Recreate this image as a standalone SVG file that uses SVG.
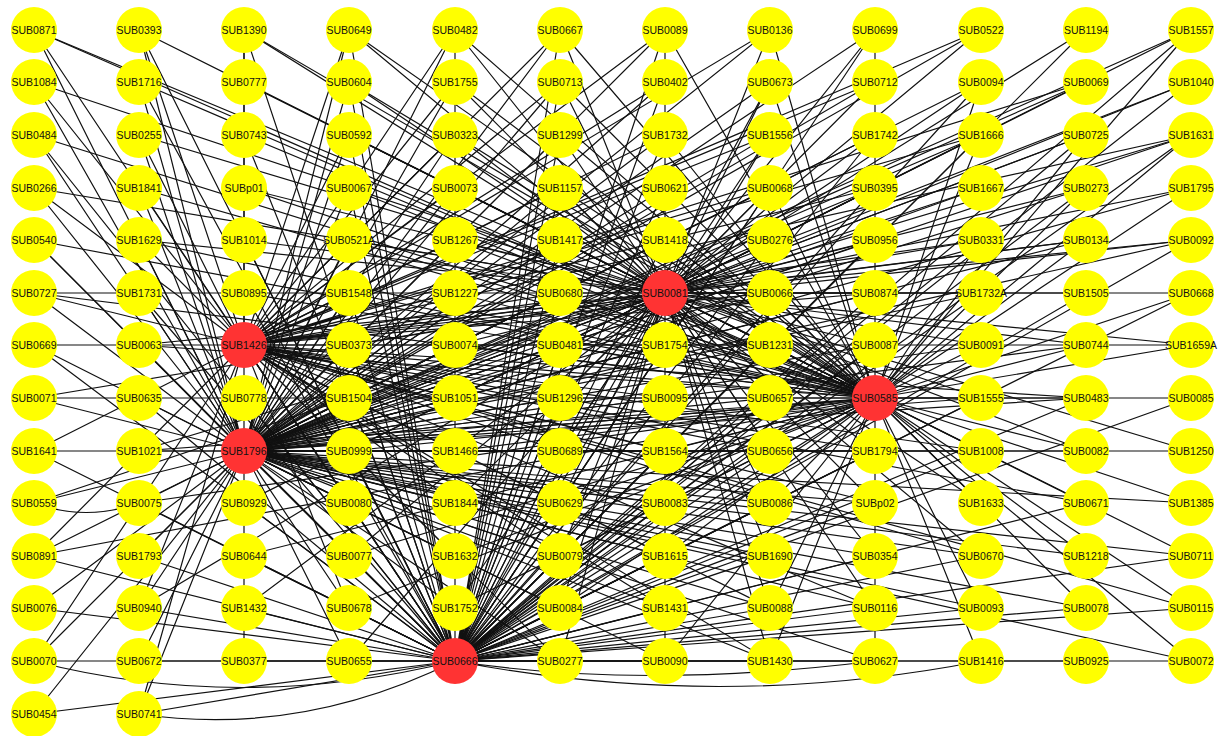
<svg xmlns="http://www.w3.org/2000/svg" width="1224" height="736" viewBox="0 0 1224 736">
<style>
.e path{fill:none;stroke:#111;stroke-width:1.2}
circle{stroke:none}
.y circle{fill:#ffff00}
.r circle{fill:#ff3333}
text{font-family:"Liberation Sans",Arial,sans-serif;font-size:10.5px;fill:#111;text-anchor:middle}
</style>
<rect width="1224" height="736" fill="#fff"/>
<g class="e" id="connectors">
<path id="h1c0" d="M244 451L34 30M244 451L34 82M244 451L34 135M244 451L34 188M244 451L34 240M244 451L34 293M244 451L34 345M244 451L34 398M244 451L34 451M244 451L34 503M244 451L34 556M244 451L34 608M244 451L34 661M244 451L34 714"/>
<path id="h1c1" d="M244 451L139 30M244 451L139 82M244 451L139 135M244 451L139 188M244 451L139 240M244 451L139 293M244 451L139 345M244 451L139 398M244 451L139 451M244 451L139 503M244 451L139 556M244 451L139 608M244 451L139 661M244 451L139 714"/>
<path id="h1c2" d="M244 451L244 30M244 451L244 661"/>
<path id="h1c3" d="M244 451L349 30M244 451L349 82M244 451L349 135M244 451L349 188M244 451L349 240M244 451L349 293M244 451L349 345M244 451L349 398M244 451L349 451M244 451L349 503M244 451L349 556M244 451L349 608M244 451L349 661"/>
<path id="h1c4" d="M244 451L455 30M244 451L455 82M244 451L455 135M244 451L455 188M244 451L455 240M244 451L455 293M244 451L455 345M244 451L455 398M244 451L455 451M244 451L455 503M244 451L455 556M244 451L455 608M244 451L455 661"/>
<path id="h1c5" d="M244 451L560 30M244 451L560 82M244 451L560 135M244 451L560 188M244 451L560 240M244 451L560 293M244 451L560 345M244 451L560 398M244 451L560 451M244 451L560 503M244 451L560 556M244 451L560 608M244 451L560 661"/>
<path id="h1c6" d="M244 451L665 30M244 451L665 82M244 451L665 135M244 451L665 188M244 451L665 240M244 451L665 293M244 451L665 345M244 451L665 398M244 451L665 451M244 451L665 503M244 451L665 556M244 451L665 608M244 451L665 661"/>
<path id="h1c7" d="M244 451L770 30M244 451L770 82M244 451L770 135M244 451L770 188M244 451L770 240M244 451L770 293M244 451L770 345M244 451L770 398M244 451L770 451M244 451L770 503M244 451L770 556M244 451L770 608M244 451L770 661"/>
<path id="h1c8" d="M244 451L875 30M244 451L875 82M244 451L875 135M244 451L875 188M244 451L875 240M244 451L875 293M244 451L875 345M244 451L875 398M244 451L875 451M244 451L875 503M244 451L875 556M244 451L875 608M244 451L875 661"/>
<path id="h1c9" d="M244 451L981 30M244 451L981 82M244 451L981 135M244 451L981 188M244 451L981 293M244 451L981 345M244 451L981 398M244 451L981 451M244 451L981 556M244 451L981 608"/>
<path id="h1c10" d="M244 451L1086 82M244 451L1086 135M244 451L1086 188M244 451L1086 240M244 451L1086 345M244 451L1086 398M244 451L1086 451M244 451L1086 556M244 451L1086 608"/>
<path id="h1c11" d="M244 451L1191 30M244 451L1191 82M244 451L1191 135M244 451L1191 188M244 451L1191 240M244 451L1191 451M244 451L1191 503M244 451L1191 556M244 451L1191 661"/>
<path id="h2c0" d="M455 661L34 30M455 661L34 135M455 661L34 240M455 661L34 345M455 661L34 451M455 661L34 556M455 661L34 608M455 661L34 714M455 661L34 661"/>
<path id="h2c1" d="M455 661L139 30M455 661L139 82M455 661L139 188M455 661L139 293M455 661L139 398M455 661L139 503M455 661L139 556M455 661L139 608M455 661L139 661M455 661L139 714"/>
<path id="h2c2" d="M455 661L244 30M455 661L244 135M455 661L244 240M455 661L244 293M455 661L244 345M455 661L244 398M455 661L244 451M455 661L244 503M455 661L244 556M455 661L244 608M455 661L244 661"/>
<path id="h2c3" d="M455 661L349 30M455 661L349 82M455 661L349 135M455 661L349 188M455 661L349 293M455 661L349 345M455 661L349 398M455 661L349 451M455 661L349 503M455 661L349 556M455 661L349 608M455 661L349 661"/>
<path id="h2c4" d="M455 661L455 30"/>
<path id="h2c5" d="M455 661L560 30M455 661L560 82M455 661L560 135M455 661L560 188M455 661L560 240M455 661L560 293M455 661L560 345M455 661L560 398M455 661L560 451M455 661L560 503M455 661L560 556M455 661L560 608M455 661L560 661"/>
<path id="h2c6" d="M455 661L665 30M455 661L665 82M455 661L665 135M455 661L665 188M455 661L665 240M455 661L665 293M455 661L665 345M455 661L665 398M455 661L665 451M455 661L665 503M455 661L665 556M455 661L665 608M455 661L665 661"/>
<path id="h2c7" d="M455 661L770 82M455 661L770 135M455 661L770 188M455 661L770 240M455 661L770 345M455 661L770 398M455 661L770 451M455 661L770 503M455 661L770 556M455 661L770 608M455 661L770 661"/>
<path id="h2c8" d="M455 661L875 30M455 661L875 135M455 661L875 188M455 661L875 240M455 661L875 293M455 661L875 345M455 661L875 398M455 661L875 451M455 661L875 503M455 661L875 556M455 661L875 608M455 661L875 661"/>
<path id="h2c9" d="M455 661L981 82M455 661L981 135M455 661L981 240M455 661L981 293M455 661L981 398M455 661L981 451M455 661L981 556M455 661L981 608"/>
<path id="h2c10" d="M455 661L1086 30M455 661L1086 135M455 661L1086 188M455 661L1086 293M455 661L1086 398M455 661L1086 503M455 661L1086 608M455 661L1086 661"/>
<path id="h2c11" d="M455 661L1191 30M455 661L1191 82M455 661L1191 135M455 661L1191 240M455 661L1191 293M455 661L1191 398M455 661L1191 556M455 661L1191 608M455 661L1191 661"/>
<path id="h2curves" d="M34 661Q240 714 455 661M139 714Q300 738 455 661M455 661Q720 712 981 661M455 661Q640 690 875 661"/>
<path id="h3c0" d="M665 293L34 30M665 293L34 82M665 293L34 188M665 293L34 293M665 293L34 398M665 293L34 503"/>
<path id="h3c1" d="M665 293L139 30M665 293L139 135M665 293L139 240M665 293L139 345M665 293L139 451M665 293L139 608"/>
<path id="h3c2" d="M665 293L244 30M665 293L244 82M665 293L244 188M665 293L244 240M665 293L244 345M665 293L244 451M665 293L244 503M665 293L244 608"/>
<path id="h3c3" d="M665 293L349 30M665 293L349 82M665 293L349 135M665 293L349 240M665 293L349 345M665 293L349 451M665 293L349 556M665 293L349 661"/>
<path id="h3c4" d="M665 293L455 30M665 293L455 82M665 293L455 135M665 293L455 188M665 293L455 240M665 293L455 345M665 293L455 398M665 293L455 503M665 293L455 608"/>
<path id="h3c5" d="M665 293L560 30M665 293L560 82M665 293L560 135M665 293L560 188M665 293L560 240M665 293L560 293M665 293L560 345M665 293L560 398M665 293L560 451M665 293L560 503M665 293L560 556M665 293L560 608M665 293L560 661"/>
<path id="h3c6" d="M665 293L665 30M665 293L665 661"/>
<path id="h3c7" d="M665 293L770 30M665 293L770 82M665 293L770 135M665 293L770 188M665 293L770 240M665 293L770 293M665 293L770 345M665 293L770 398M665 293L770 451M665 293L770 503M665 293L770 556M665 293L770 608M665 293L770 661"/>
<path id="h3c8" d="M665 293L875 30M665 293L875 82M665 293L875 135M665 293L875 188M665 293L875 240M665 293L875 293M665 293L875 345M665 293L875 398M665 293L875 451M665 293L875 503M665 293L875 556M665 293L875 608"/>
<path id="h3c9" d="M665 293L981 30M665 293L981 82M665 293L981 135M665 293L981 188M665 293L981 240M665 293L981 293M665 293L981 345M665 293L981 398M665 293L981 451M665 293L981 503M665 293L981 556"/>
<path id="h3c10" d="M665 293L1086 30M665 293L1086 82M665 293L1086 135M665 293L1086 188M665 293L1086 240M665 293L1086 293M665 293L1086 345M665 293L1086 451M665 293L1086 503"/>
<path id="h3c11" d="M665 293L1191 30M665 293L1191 82M665 293L1191 135M665 293L1191 188M665 293L1191 240M665 293L1191 293M665 293L1191 345M665 293L1191 451"/>
<path id="h4c0" d="M875 398L34 30M875 398L34 135M875 398L34 240M875 398L34 293M875 398L34 398M875 398L34 556"/>
<path id="h4c1" d="M875 398L139 82M875 398L139 188M875 398L139 240M875 398L139 345M875 398L139 451M875 398L139 503"/>
<path id="h4c2" d="M875 398L244 30M875 398L244 135M875 398L244 188M875 398L244 293M875 398L244 345M875 398L244 451M875 398L244 556"/>
<path id="h4c3" d="M875 398L349 30M875 398L349 82M875 398L349 135M875 398L349 188M875 398L349 240M875 398L349 293M875 398L349 451M875 398L349 556M875 398L349 608"/>
<path id="h4c4" d="M875 398L455 30M875 398L455 82M875 398L455 135M875 398L455 240M875 398L455 293M875 398L455 345M875 398L455 451M875 398L455 556M875 398L455 608"/>
<path id="h4c5" d="M875 398L560 30M875 398L560 82M875 398L560 135M875 398L560 188M875 398L560 240M875 398L560 293M875 398L560 345M875 398L560 398M875 398L560 503M875 398L560 556M875 398L560 608"/>
<path id="h4c6" d="M875 398L665 30M875 398L665 135M875 398L665 240M875 398L665 345M875 398L665 451M875 398L665 556M875 398L665 661"/>
<path id="h4c7" d="M875 398L770 30M875 398L770 82M875 398L770 188M875 398L770 293M875 398L770 345M875 398L770 451M875 398L770 503M875 398L770 608M875 398L770 661"/>
<path id="h4c8" d="M875 398L875 30M875 398L875 661"/>
<path id="h4c9" d="M875 398L981 82M875 398L981 135M875 398L981 240M875 398L981 345M875 398L981 398M875 398L981 503M875 398L981 608M875 398L981 661"/>
<path id="h4c10" d="M875 398L1086 135M875 398L1086 188M875 398L1086 240M875 398L1086 345M875 398L1086 398M875 398L1086 451M875 398L1086 556M875 398L1086 608"/>
<path id="h4c11" d="M875 398L1191 30M875 398L1191 135M875 398L1191 188M875 398L1191 293M875 398L1191 345M875 398L1191 398M875 398L1191 503M875 398L1191 556M875 398L1191 608M875 398L1191 661"/>
<path id="h5" d="M244 345L34 82M244 345L34 188M244 345L34 293M244 345L34 345M244 345L34 451M244 345L34 556M244 345L34 661M244 345L139 30M244 345L139 135M244 345L139 240M244 345L139 398M244 345L139 503M244 345L139 608M244 345L139 714M244 345L244 30M244 345L349 30M244 345L349 135M244 345L349 240M244 345L349 345M244 345L349 398M244 345L349 503M244 345L349 608M244 345L455 82M244 345L455 188M244 345L455 293M244 345L455 398M244 345L455 503M244 345L560 30M244 345L560 188M244 345L560 345M244 345L560 503M244 345L560 661M244 345L665 82M244 345L665 240M244 345L665 398M244 345L665 556M244 345L770 135M244 345L770 293M244 345L770 451M244 345L770 608M244 345L875 188M244 345L875 345M244 345L875 503M244 345L981 345M244 345L981 556M244 345L1086 345M244 345L1086 503M244 345L1191 345M244 345L1191 608"/>
<path id="h5b" d="M244 345L455 30M244 345L455 135M244 345L455 240M244 345L455 345M244 345L455 451M244 345L455 556M244 345L560 82M244 345L560 293M244 345L560 451M244 345L560 556M244 345L665 30M244 345L665 135M244 345L665 345M244 345L665 451M244 345L665 608M244 345L770 30M244 345L770 188M244 345L770 345M244 345L770 503M244 345L770 661M244 345L875 82M244 345L875 293M244 345L875 451M244 345L875 608M244 345L981 30M244 345L981 135M244 345L981 240M244 345L981 451M244 345L1086 82M244 345L1086 240M244 345L1086 398M244 345L1191 135M244 345L1191 240"/>
<path id="misc" d="M34 503Q86 522 139 503"/>
</g>
<g id="nodes">
<g id="SUB0871" class="y" transform="translate(34,30)"><circle r="23"/><text y="4">SUB0871</text></g>
<g id="SUB1084" class="y" transform="translate(34,82)"><circle r="23"/><text y="4">SUB1084</text></g>
<g id="SUB0484" class="y" transform="translate(34,135)"><circle r="23"/><text y="4">SUB0484</text></g>
<g id="SUB0266" class="y" transform="translate(34,188)"><circle r="23"/><text y="4">SUB0266</text></g>
<g id="SUB0540" class="y" transform="translate(34,240)"><circle r="23"/><text y="4">SUB0540</text></g>
<g id="SUB0727" class="y" transform="translate(34,293)"><circle r="23"/><text y="4">SUB0727</text></g>
<g id="SUB0669" class="y" transform="translate(34,345)"><circle r="23"/><text y="4">SUB0669</text></g>
<g id="SUB0071" class="y" transform="translate(34,398)"><circle r="23"/><text y="4">SUB0071</text></g>
<g id="SUB1641" class="y" transform="translate(34,451)"><circle r="23"/><text y="4">SUB1641</text></g>
<g id="SUB0559" class="y" transform="translate(34,503)"><circle r="23"/><text y="4">SUB0559</text></g>
<g id="SUB0891" class="y" transform="translate(34,556)"><circle r="23"/><text y="4">SUB0891</text></g>
<g id="SUB0076" class="y" transform="translate(34,608)"><circle r="23"/><text y="4">SUB0076</text></g>
<g id="SUB0070" class="y" transform="translate(34,661)"><circle r="23"/><text y="4">SUB0070</text></g>
<g id="SUB0454" class="y" transform="translate(34,714)"><circle r="23"/><text y="4">SUB0454</text></g>
<g id="SUB0393" class="y" transform="translate(139,30)"><circle r="23"/><text y="4">SUB0393</text></g>
<g id="SUB1716" class="y" transform="translate(139,82)"><circle r="23"/><text y="4">SUB1716</text></g>
<g id="SUB0255" class="y" transform="translate(139,135)"><circle r="23"/><text y="4">SUB0255</text></g>
<g id="SUB1841" class="y" transform="translate(139,188)"><circle r="23"/><text y="4">SUB1841</text></g>
<g id="SUB1629" class="y" transform="translate(139,240)"><circle r="23"/><text y="4">SUB1629</text></g>
<g id="SUB1731" class="y" transform="translate(139,293)"><circle r="23"/><text y="4">SUB1731</text></g>
<g id="SUB0063" class="y" transform="translate(139,345)"><circle r="23"/><text y="4">SUB0063</text></g>
<g id="SUB0635" class="y" transform="translate(139,398)"><circle r="23"/><text y="4">SUB0635</text></g>
<g id="SUB1021" class="y" transform="translate(139,451)"><circle r="23"/><text y="4">SUB1021</text></g>
<g id="SUB0075" class="y" transform="translate(139,503)"><circle r="23"/><text y="4">SUB0075</text></g>
<g id="SUB1793" class="y" transform="translate(139,556)"><circle r="23"/><text y="4">SUB1793</text></g>
<g id="SUB0940" class="y" transform="translate(139,608)"><circle r="23"/><text y="4">SUB0940</text></g>
<g id="SUB0672" class="y" transform="translate(139,661)"><circle r="23"/><text y="4">SUB0672</text></g>
<g id="SUB0741" class="y" transform="translate(139,714)"><circle r="23"/><text y="4">SUB0741</text></g>
<g id="SUB1390" class="y" transform="translate(244,30)"><circle r="23"/><text y="4">SUB1390</text></g>
<g id="SUB0777" class="y" transform="translate(244,82)"><circle r="23"/><text y="4">SUB0777</text></g>
<g id="SUB0743" class="y" transform="translate(244,135)"><circle r="23"/><text y="4">SUB0743</text></g>
<g id="SUBp01" class="y" transform="translate(244,188)"><circle r="23"/><text y="4">SUBp01</text></g>
<g id="SUB1014" class="y" transform="translate(244,240)"><circle r="23"/><text y="4">SUB1014</text></g>
<g id="SUB0895" class="y" transform="translate(244,293)"><circle r="23"/><text y="4">SUB0895</text></g>
<g id="SUB1426" class="r" transform="translate(244,345)"><circle r="23"/><text y="4">SUB1426</text></g>
<g id="SUB0778" class="y" transform="translate(244,398)"><circle r="23"/><text y="4">SUB0778</text></g>
<g id="SUB1796" class="r" transform="translate(244,451)"><circle r="23"/><text y="4">SUB1796</text></g>
<g id="SUB0929" class="y" transform="translate(244,503)"><circle r="23"/><text y="4">SUB0929</text></g>
<g id="SUB0644" class="y" transform="translate(244,556)"><circle r="23"/><text y="4">SUB0644</text></g>
<g id="SUB1432" class="y" transform="translate(244,608)"><circle r="23"/><text y="4">SUB1432</text></g>
<g id="SUB0377" class="y" transform="translate(244,661)"><circle r="23"/><text y="4">SUB0377</text></g>
<g id="SUB0649" class="y" transform="translate(349,30)"><circle r="23"/><text y="4">SUB0649</text></g>
<g id="SUB0604" class="y" transform="translate(349,82)"><circle r="23"/><text y="4">SUB0604</text></g>
<g id="SUB0592" class="y" transform="translate(349,135)"><circle r="23"/><text y="4">SUB0592</text></g>
<g id="SUB0067" class="y" transform="translate(349,188)"><circle r="23"/><text y="4">SUB0067</text></g>
<g id="SUB0521A" class="y" transform="translate(349,240)"><circle r="23"/><text y="4">SUB0521A</text></g>
<g id="SUB1548" class="y" transform="translate(349,293)"><circle r="23"/><text y="4">SUB1548</text></g>
<g id="SUB0373" class="y" transform="translate(349,345)"><circle r="23"/><text y="4">SUB0373</text></g>
<g id="SUB1504" class="y" transform="translate(349,398)"><circle r="23"/><text y="4">SUB1504</text></g>
<g id="SUB0999" class="y" transform="translate(349,451)"><circle r="23"/><text y="4">SUB0999</text></g>
<g id="SUB0080" class="y" transform="translate(349,503)"><circle r="23"/><text y="4">SUB0080</text></g>
<g id="SUB0077" class="y" transform="translate(349,556)"><circle r="23"/><text y="4">SUB0077</text></g>
<g id="SUB0678" class="y" transform="translate(349,608)"><circle r="23"/><text y="4">SUB0678</text></g>
<g id="SUB0655" class="y" transform="translate(349,661)"><circle r="23"/><text y="4">SUB0655</text></g>
<g id="SUB0482" class="y" transform="translate(455,30)"><circle r="23"/><text y="4">SUB0482</text></g>
<g id="SUB1755" class="y" transform="translate(455,82)"><circle r="23"/><text y="4">SUB1755</text></g>
<g id="SUB0323" class="y" transform="translate(455,135)"><circle r="23"/><text y="4">SUB0323</text></g>
<g id="SUB0073" class="y" transform="translate(455,188)"><circle r="23"/><text y="4">SUB0073</text></g>
<g id="SUB1267" class="y" transform="translate(455,240)"><circle r="23"/><text y="4">SUB1267</text></g>
<g id="SUB1227" class="y" transform="translate(455,293)"><circle r="23"/><text y="4">SUB1227</text></g>
<g id="SUB0074" class="y" transform="translate(455,345)"><circle r="23"/><text y="4">SUB0074</text></g>
<g id="SUB1051" class="y" transform="translate(455,398)"><circle r="23"/><text y="4">SUB1051</text></g>
<g id="SUB1466" class="y" transform="translate(455,451)"><circle r="23"/><text y="4">SUB1466</text></g>
<g id="SUB1844" class="y" transform="translate(455,503)"><circle r="23"/><text y="4">SUB1844</text></g>
<g id="SUB1632" class="y" transform="translate(455,556)"><circle r="23"/><text y="4">SUB1632</text></g>
<g id="SUB1752" class="y" transform="translate(455,608)"><circle r="23"/><text y="4">SUB1752</text></g>
<g id="SUB0666" class="r" transform="translate(455,661)"><circle r="23"/><text y="4">SUB0666</text></g>
<g id="SUB0667" class="y" transform="translate(560,30)"><circle r="23"/><text y="4">SUB0667</text></g>
<g id="SUB0713" class="y" transform="translate(560,82)"><circle r="23"/><text y="4">SUB0713</text></g>
<g id="SUB1299" class="y" transform="translate(560,135)"><circle r="23"/><text y="4">SUB1299</text></g>
<g id="SUB1157" class="y" transform="translate(560,188)"><circle r="23"/><text y="4">SUB1157</text></g>
<g id="SUB1417" class="y" transform="translate(560,240)"><circle r="23"/><text y="4">SUB1417</text></g>
<g id="SUB0680" class="y" transform="translate(560,293)"><circle r="23"/><text y="4">SUB0680</text></g>
<g id="SUB0481" class="y" transform="translate(560,345)"><circle r="23"/><text y="4">SUB0481</text></g>
<g id="SUB1296" class="y" transform="translate(560,398)"><circle r="23"/><text y="4">SUB1296</text></g>
<g id="SUB0689" class="y" transform="translate(560,451)"><circle r="23"/><text y="4">SUB0689</text></g>
<g id="SUB0629" class="y" transform="translate(560,503)"><circle r="23"/><text y="4">SUB0629</text></g>
<g id="SUB0079" class="y" transform="translate(560,556)"><circle r="23"/><text y="4">SUB0079</text></g>
<g id="SUB0084" class="y" transform="translate(560,608)"><circle r="23"/><text y="4">SUB0084</text></g>
<g id="SUB0277" class="y" transform="translate(560,661)"><circle r="23"/><text y="4">SUB0277</text></g>
<g id="SUB0089" class="y" transform="translate(665,30)"><circle r="23"/><text y="4">SUB0089</text></g>
<g id="SUB0402" class="y" transform="translate(665,82)"><circle r="23"/><text y="4">SUB0402</text></g>
<g id="SUB1732" class="y" transform="translate(665,135)"><circle r="23"/><text y="4">SUB1732</text></g>
<g id="SUB0621" class="y" transform="translate(665,188)"><circle r="23"/><text y="4">SUB0621</text></g>
<g id="SUB1418" class="y" transform="translate(665,240)"><circle r="23"/><text y="4">SUB1418</text></g>
<g id="SUB0081" class="r" transform="translate(665,293)"><circle r="23"/><text y="4">SUB0081</text></g>
<g id="SUB1754" class="y" transform="translate(665,345)"><circle r="23"/><text y="4">SUB1754</text></g>
<g id="SUB0095" class="y" transform="translate(665,398)"><circle r="23"/><text y="4">SUB0095</text></g>
<g id="SUB1564" class="y" transform="translate(665,451)"><circle r="23"/><text y="4">SUB1564</text></g>
<g id="SUB0083" class="y" transform="translate(665,503)"><circle r="23"/><text y="4">SUB0083</text></g>
<g id="SUB1615" class="y" transform="translate(665,556)"><circle r="23"/><text y="4">SUB1615</text></g>
<g id="SUB1431" class="y" transform="translate(665,608)"><circle r="23"/><text y="4">SUB1431</text></g>
<g id="SUB0090" class="y" transform="translate(665,661)"><circle r="23"/><text y="4">SUB0090</text></g>
<g id="SUB0136" class="y" transform="translate(770,30)"><circle r="23"/><text y="4">SUB0136</text></g>
<g id="SUB0673" class="y" transform="translate(770,82)"><circle r="23"/><text y="4">SUB0673</text></g>
<g id="SUB1556" class="y" transform="translate(770,135)"><circle r="23"/><text y="4">SUB1556</text></g>
<g id="SUB0068" class="y" transform="translate(770,188)"><circle r="23"/><text y="4">SUB0068</text></g>
<g id="SUB0276" class="y" transform="translate(770,240)"><circle r="23"/><text y="4">SUB0276</text></g>
<g id="SUB0066" class="y" transform="translate(770,293)"><circle r="23"/><text y="4">SUB0066</text></g>
<g id="SUB1231" class="y" transform="translate(770,345)"><circle r="23"/><text y="4">SUB1231</text></g>
<g id="SUB0657" class="y" transform="translate(770,398)"><circle r="23"/><text y="4">SUB0657</text></g>
<g id="SUB0656" class="y" transform="translate(770,451)"><circle r="23"/><text y="4">SUB0656</text></g>
<g id="SUB0086" class="y" transform="translate(770,503)"><circle r="23"/><text y="4">SUB0086</text></g>
<g id="SUB1690" class="y" transform="translate(770,556)"><circle r="23"/><text y="4">SUB1690</text></g>
<g id="SUB0088" class="y" transform="translate(770,608)"><circle r="23"/><text y="4">SUB0088</text></g>
<g id="SUB1430" class="y" transform="translate(770,661)"><circle r="23"/><text y="4">SUB1430</text></g>
<g id="SUB0699" class="y" transform="translate(875,30)"><circle r="23"/><text y="4">SUB0699</text></g>
<g id="SUB0712" class="y" transform="translate(875,82)"><circle r="23"/><text y="4">SUB0712</text></g>
<g id="SUB1742" class="y" transform="translate(875,135)"><circle r="23"/><text y="4">SUB1742</text></g>
<g id="SUB0395" class="y" transform="translate(875,188)"><circle r="23"/><text y="4">SUB0395</text></g>
<g id="SUB0956" class="y" transform="translate(875,240)"><circle r="23"/><text y="4">SUB0956</text></g>
<g id="SUB0874" class="y" transform="translate(875,293)"><circle r="23"/><text y="4">SUB0874</text></g>
<g id="SUB0087" class="y" transform="translate(875,345)"><circle r="23"/><text y="4">SUB0087</text></g>
<g id="SUB0585" class="r" transform="translate(875,398)"><circle r="23"/><text y="4">SUB0585</text></g>
<g id="SUB1794" class="y" transform="translate(875,451)"><circle r="23"/><text y="4">SUB1794</text></g>
<g id="SUBp02" class="y" transform="translate(875,503)"><circle r="23"/><text y="4">SUBp02</text></g>
<g id="SUB0354" class="y" transform="translate(875,556)"><circle r="23"/><text y="4">SUB0354</text></g>
<g id="SUB0116" class="y" transform="translate(875,608)"><circle r="23"/><text y="4">SUB0116</text></g>
<g id="SUB0627" class="y" transform="translate(875,661)"><circle r="23"/><text y="4">SUB0627</text></g>
<g id="SUB0522" class="y" transform="translate(981,30)"><circle r="23"/><text y="4">SUB0522</text></g>
<g id="SUB0094" class="y" transform="translate(981,82)"><circle r="23"/><text y="4">SUB0094</text></g>
<g id="SUB1666" class="y" transform="translate(981,135)"><circle r="23"/><text y="4">SUB1666</text></g>
<g id="SUB1667" class="y" transform="translate(981,188)"><circle r="23"/><text y="4">SUB1667</text></g>
<g id="SUB0331" class="y" transform="translate(981,240)"><circle r="23"/><text y="4">SUB0331</text></g>
<g id="SUB1732A" class="y" transform="translate(981,293)"><circle r="23"/><text y="4">SUB1732A</text></g>
<g id="SUB0091" class="y" transform="translate(981,345)"><circle r="23"/><text y="4">SUB0091</text></g>
<g id="SUB1555" class="y" transform="translate(981,398)"><circle r="23"/><text y="4">SUB1555</text></g>
<g id="SUB1008" class="y" transform="translate(981,451)"><circle r="23"/><text y="4">SUB1008</text></g>
<g id="SUB1633" class="y" transform="translate(981,503)"><circle r="23"/><text y="4">SUB1633</text></g>
<g id="SUB0670" class="y" transform="translate(981,556)"><circle r="23"/><text y="4">SUB0670</text></g>
<g id="SUB0093" class="y" transform="translate(981,608)"><circle r="23"/><text y="4">SUB0093</text></g>
<g id="SUB1416" class="y" transform="translate(981,661)"><circle r="23"/><text y="4">SUB1416</text></g>
<g id="SUB1194" class="y" transform="translate(1086,30)"><circle r="23"/><text y="4">SUB1194</text></g>
<g id="SUB0069" class="y" transform="translate(1086,82)"><circle r="23"/><text y="4">SUB0069</text></g>
<g id="SUB0725" class="y" transform="translate(1086,135)"><circle r="23"/><text y="4">SUB0725</text></g>
<g id="SUB0273" class="y" transform="translate(1086,188)"><circle r="23"/><text y="4">SUB0273</text></g>
<g id="SUB0134" class="y" transform="translate(1086,240)"><circle r="23"/><text y="4">SUB0134</text></g>
<g id="SUB1505" class="y" transform="translate(1086,293)"><circle r="23"/><text y="4">SUB1505</text></g>
<g id="SUB0744" class="y" transform="translate(1086,345)"><circle r="23"/><text y="4">SUB0744</text></g>
<g id="SUB0483" class="y" transform="translate(1086,398)"><circle r="23"/><text y="4">SUB0483</text></g>
<g id="SUB0082" class="y" transform="translate(1086,451)"><circle r="23"/><text y="4">SUB0082</text></g>
<g id="SUB0671" class="y" transform="translate(1086,503)"><circle r="23"/><text y="4">SUB0671</text></g>
<g id="SUB1218" class="y" transform="translate(1086,556)"><circle r="23"/><text y="4">SUB1218</text></g>
<g id="SUB0078" class="y" transform="translate(1086,608)"><circle r="23"/><text y="4">SUB0078</text></g>
<g id="SUB0925" class="y" transform="translate(1086,661)"><circle r="23"/><text y="4">SUB0925</text></g>
<g id="SUB1557" class="y" transform="translate(1191,30)"><circle r="23"/><text y="4">SUB1557</text></g>
<g id="SUB1040" class="y" transform="translate(1191,82)"><circle r="23"/><text y="4">SUB1040</text></g>
<g id="SUB1631" class="y" transform="translate(1191,135)"><circle r="23"/><text y="4">SUB1631</text></g>
<g id="SUB1795" class="y" transform="translate(1191,188)"><circle r="23"/><text y="4">SUB1795</text></g>
<g id="SUB0092" class="y" transform="translate(1191,240)"><circle r="23"/><text y="4">SUB0092</text></g>
<g id="SUB0668" class="y" transform="translate(1191,293)"><circle r="23"/><text y="4">SUB0668</text></g>
<g id="SUB1659A" class="y" transform="translate(1191,345)"><circle r="23"/><text y="4">SUB1659A</text></g>
<g id="SUB0085" class="y" transform="translate(1191,398)"><circle r="23"/><text y="4">SUB0085</text></g>
<g id="SUB1250" class="y" transform="translate(1191,451)"><circle r="23"/><text y="4">SUB1250</text></g>
<g id="SUB1385" class="y" transform="translate(1191,503)"><circle r="23"/><text y="4">SUB1385</text></g>
<g id="SUB0711" class="y" transform="translate(1191,556)"><circle r="23"/><text y="4">SUB0711</text></g>
<g id="SUB0115" class="y" transform="translate(1191,608)"><circle r="23"/><text y="4">SUB0115</text></g>
<g id="SUB0072" class="y" transform="translate(1191,661)"><circle r="23"/><text y="4">SUB0072</text></g>
</g>
</svg>
